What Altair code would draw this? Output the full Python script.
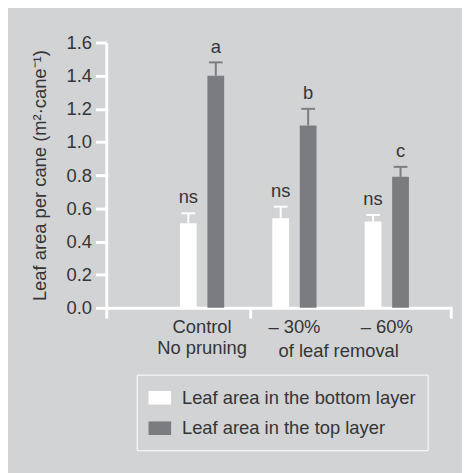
import altair as alt
import pandas as pd

groups = ["Control", "– 30%", "– 60%"]
layers = ["Leaf area in the bottom layer", "Leaf area in the top layer"]
bottom_mean = [0.51, 0.54, 0.52]
bottom_upper = [0.57, 0.61, 0.56]
top_mean = [1.40, 1.10, 0.79]
top_upper = [1.48, 1.20, 0.85]
bottom_sig = ["ns", "ns", "ns"]
top_sig = ["a", "b", "c"]
y_ticks = [0.0, 0.2, 0.4, 0.6, 0.8, 1.0, 1.2, 1.4, 1.6]

rows = []
for i, g in enumerate(groups):
    rows.append({"group": g, "layer": layers[0], "mean": bottom_mean[i],
                 "upper": bottom_upper[i], "sig": bottom_sig[i]})
    rows.append({"group": g, "layer": layers[1], "mean": top_mean[i],
                 "upper": top_upper[i], "sig": top_sig[i]})
df = pd.DataFrame(rows)

FONT = "Liberation Sans"
FS = 18.7
TXT = "#353535"
BG = "#d2d3d5"
GRAY = "#7b7c7f"

xscale = alt.Scale(paddingInner=0.521, paddingOuter=0.633, align=0.63)
xaxis = alt.Axis(
    title="of leaf removal", titleX=236, titleY=50, titleAlign="center",
    titleBaseline="alphabetic", titleFontSize=FS, titleFontWeight="normal",
    titleColor=TXT, titleFont=FONT,
    labelExpr="datum.value == 'Control' ? ['Control', 'No pruning'] : datum.value",
    labelAngle=0, labelFontSize=FS, labelColor=TXT, labelFont=FONT,
    labelBaseline="alphabetic", labelPadding=25, labelLineHeight=22,
    labelOverlap=False,
    ticks=False, tickSize=0, domainColor="white", domainWidth=3,
)
yscale = alt.Scale(domain=[0, 1.6])
yaxis = alt.Axis(
    title="Leaf area per cane (m²·cane⁻¹)", values=y_ticks, format=".1f",
    grid=False, labelFontSize=FS, labelColor=TXT, labelFont=FONT,
    labelPadding=4, labelOverlap=False, labelFlush=False,
    tickColor="white", tickWidth=3, tickSize=11,
    domainColor="white", domainWidth=3,
    titleFontSize=FS, titleFontWeight="normal", titleColor=TXT,
    titleFont=FONT, titleX=-68, titleY=135, titleAlign="center",
    titleBaseline="middle", titleAngle=270,
)
xenc = alt.X("group:N", sort=groups, scale=xscale, axis=xaxis)
xoff = alt.XOffset("layer:N", sort=layers,
                   scale=alt.Scale(paddingInner=0.39, paddingOuter=0))
cscale = alt.Scale(domain=layers, range=["#ffffff", GRAY])
color = alt.Color(
    "layer:N", sort=layers, scale=cscale,
    legend=alt.Legend(
        orient="none", legendX=31, legendY=338, title=None,
        symbolType="M-1,-0.6H1V0.6H-1Z", symbolSize=529, symbolStrokeWidth=0,
        symbolOpacity=1,
        labelFontSize=FS, labelColor=TXT, labelFont=FONT, labelOffset=11,
        padding=12, strokeColor="white", rowPadding=9, direction="vertical",
        labelLimit=400,
    ),
)
color_nl = alt.Color("layer:N", sort=layers, scale=cscale, legend=None)

bars = alt.Chart(df).mark_bar(opacity=1).encode(
    x=xenc, xOffset=xoff,
    y=alt.Y("mean:Q", scale=yscale, axis=yaxis),
    color=color,
)
errs = alt.Chart(df).mark_rule(strokeWidth=2, opacity=1).encode(
    x=xenc, xOffset=xoff,
    y=alt.Y("mean:Q", scale=yscale, axis=yaxis), y2="upper:Q",
    color=color_nl,
)
caps = alt.Chart(df).mark_tick(thickness=2, size=14, orient="horizontal",
                               opacity=1).encode(
    x=xenc, xOffset=xoff,
    y=alt.Y("upper:Q", scale=yscale, axis=yaxis),
    color=color_nl,
)
labels = alt.Chart(df).mark_text(
    baseline="bottom", dy=-6, fontSize=FS, color=TXT, font=FONT
).encode(
    x=xenc, xOffset=xoff,
    y=alt.Y("upper:Q", scale=yscale, axis=yaxis), text="sig:N",
)

seps = alt.layer(*[
    alt.Chart(pd.DataFrame({"k": [1]})).mark_rule(color="white", strokeWidth=3).encode(
        x=alt.value(p), y=alt.value(270), y2=alt.value(281))
    for p in [0.5, 147, 351]
])

chart = alt.layer(bars, errs, caps, labels, seps).properties(
    width=352, height=270, background=BG,
    padding={"left": 100, "top": 31, "right": 10, "bottom": 164},
    autosize=alt.AutoSizeParams(type="none"),
).configure_view(stroke=None)

chart.save("out.html", embed_options={"renderer": "svg", "actions": False})
